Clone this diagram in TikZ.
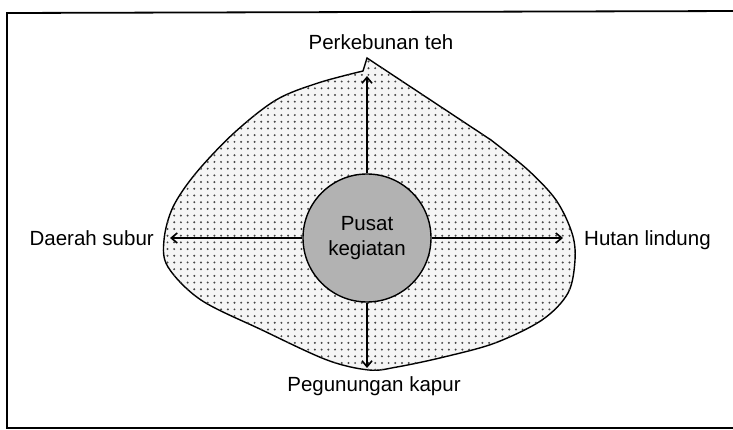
\documentclass[tikz,border=0pt]{standalone}
\usepackage{fontspec}
\setmainfont{Liberation Sans}
\usetikzlibrary{arrows.meta,patterns.meta}

\def\PusatX{367}
\def\PusatY{238}

\begin{document}
\begin{tikzpicture}[x=1pt, y=-1pt, >={Straight Barb[length=6pt,width=10pt]},
  teks/.style={font=\fontsize{20.5}{25}\selectfont, inner sep=0pt},
  arah/.style={->, line width=1.6pt}]
  \clip (0,0) rectangle (733,430);

  % bingkai
  \draw[line width=1.8pt] (745,11) -- (7,13) -- (7,428) -- (745,428);

  % wilayah kota
  \draw[line width=1.4pt, fill=gray!8,
        postaction={pattern={Dots[distance=6.7pt, radius=1.1pt]}, pattern color=gray!55!black}]
    (363,71) -- (367,58) -- (491,140)
    -- plot[smooth, tension=0.55] coordinates {(491,140) (528,170) (556,200) (572,233) (575,260)
       (568,293) (542,320) (495,343) (444,357) (397,367) (369,370) (327,360) (262,330)
       (201,300) (168,267) (164,240) (173,207) (196,173) (234,133) (276,100) (318,83) (363,71)}
    -- cycle;

  % pusat
  \node[circle, draw, line width=1.4pt, fill=gray!60, minimum size=128pt, align=center,
        teks] (pusat) at (\PusatX, \PusatY) {Pusat\\kegiatan};

  \coordinate (ujungatas) at (\PusatX, 76);
  \coordinate (ujungbawah) at (\PusatX, 368);
  \coordinate (ujungkiri) at (170, \PusatY);
  \coordinate (ujungkanan) at (563, \PusatY);

  \draw[arah] (pusat.north) -- (ujungatas);
  \draw[arah] (pusat.south) -- (ujungbawah);
  \draw[arah] (pusat.west) -- (ujungkiri);
  \draw[arah] (pusat.east) -- (ujungkanan);

  \node[teks, anchor=base] (teh) at (381,50) {Perkebunan teh};
  \node[teks, anchor=base east] (subur) at (154,246) {Daerah subur};
  \node[teks, anchor=base west] (hutan) at (584,246) {Hutan lindung};
  \node[teks, anchor=base] (kapur) at (374,391) {Pegunungan kapur};
\end{tikzpicture}
\end{document}
